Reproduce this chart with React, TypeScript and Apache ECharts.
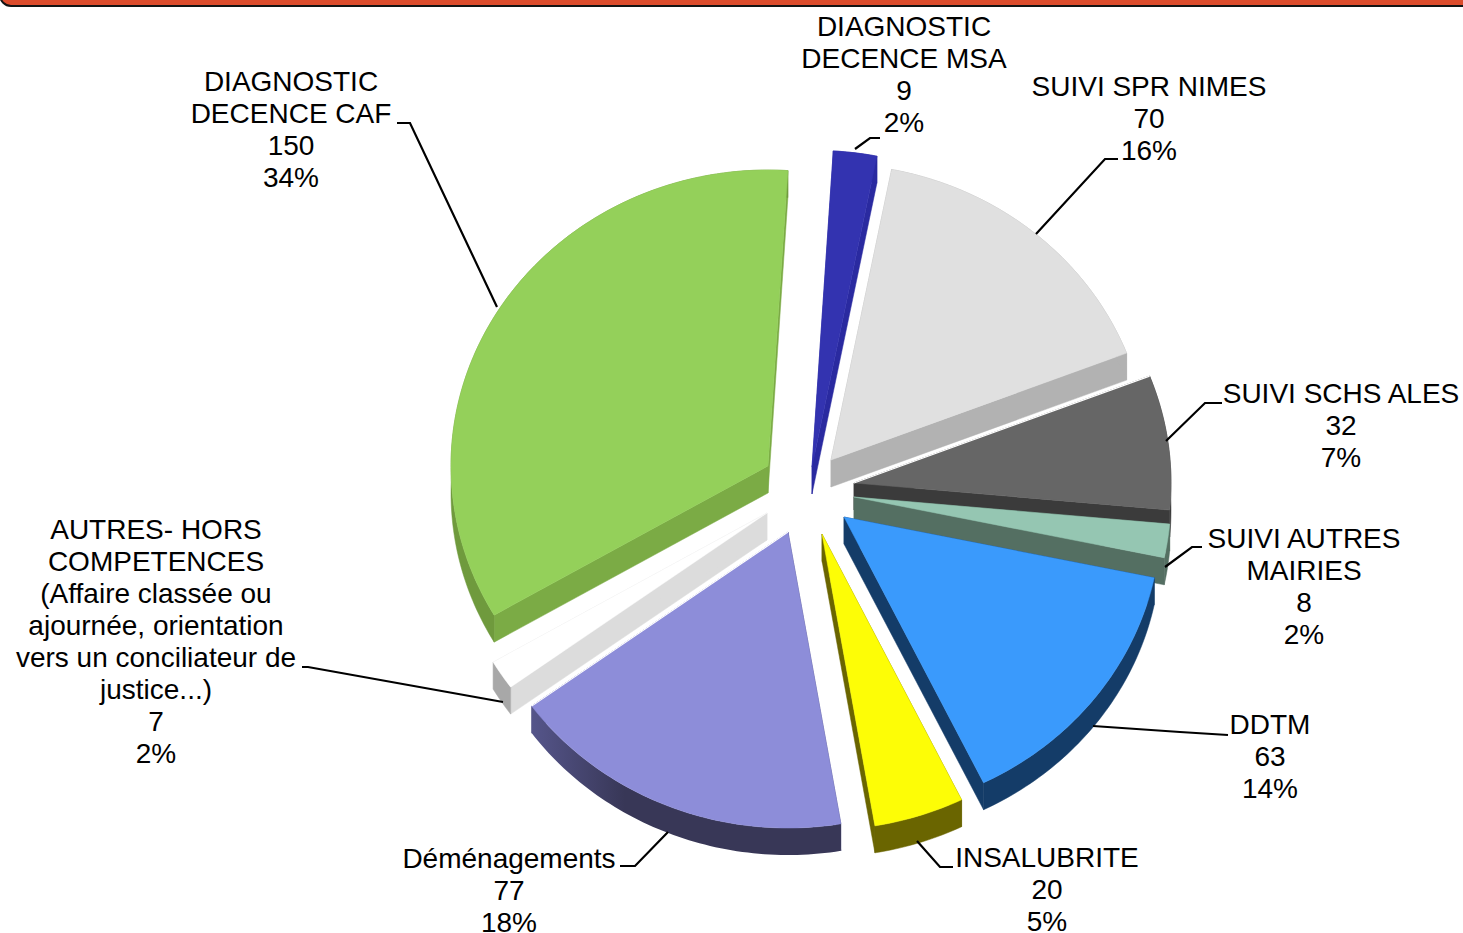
import React, { useEffect, useRef } from "react";
import * as echarts from "echarts";

const names = [
  "DIAGNOSTIC\nDECENCE MSA",
  "SUIVI SPR NIMES",
  "SUIVI SCHS ALES",
  "SUIVI AUTRES\nMAIRIES",
  "DDTM",
  "INSALUBRITE",
  "Déménagements",
  "AUTRES- HORS\nCOMPETENCES\n(Affaire classée ou\najournée, orientation\nvers un conciliateur de\njustice...)",
  "DIAGNOSTIC\nDECENCE CAF",
];
const values = [9, 70, 32, 8, 63, 20, 77, 7, 150];

// Styling and layout, one entry per slice
const topColors = ["#3333b0", "#e0e0e0", "#666666", "#95c6b2", "#3a9afc", "#fdfd06", "#8d8dd9", "#ffffff", "#94d05a"];
const edgeColors = ["#2a2aa0", "#b2b2b2", "#3b3b3b", "#546f62", "#143c68", "#6a6500", "#4f4f80", "#dcdcdc", "#7bab45"];
const rimColors = ["#2a2aa0", "#b2b2b2", "#3b3b3b", "#546f62", "#143c68", "#6a6500", "#383757", "#a8a8a8", "#6f9a3d"];
const tips: number[][] = [[812, 467], [831, 460], [854, 483], [854, 497], [844, 517], [822, 534], [788, 532], [767, 513], [768, 466]];
const radiusScale = [1.07, 1, 1, 1, 1, 1, 1, 1, 1];
const drawOrder = [1, 2, 3, 4, 5, 8, 7, 6, 0];
const labelPos: number[][] = [[904, 74], [1149, 118], [1341, 425], [1304, 586], [1270, 756], [1047, 889], [509, 890], [156, 641], [291, 129]];
const leaders: number[][][] = [
  [[880, 138], [870, 138], [855, 149]],
  [[1118, 159], [1105, 159], [1036, 234]],
  [[1222, 403], [1205, 403], [1166, 441]],
  [[1202, 547], [1192, 547], [1165, 567]],
  [[1228, 735], [1180, 732], [1093, 726]],
  [[953, 867], [940, 867], [917, 841]],
  [[620, 866], [635, 866], [668, 832]],
  [[302, 667], [308, 667], [503, 702]],
  [[397, 123], [410, 123], [497, 307]],
];

const START_DEG = 3.6;
const RX = 317;
const RY = 296;
const DEPTH = 27;
const FONT = "Liberation Sans";

const total = values.reduce((a, b) => a + b, 0);

function renderSlice(params: any, api: any) {
  const i = params.dataIndex;
  const value = api.value(0);
  let before = 0;
  for (let k = 0; k < i; k++) before += values[k];
  const a0 = START_DEG + (before / total) * 360;
  const a1 = a0 + (value / total) * 360;
  const [tx, ty] = tips[i];
  const s = radiusScale[i];
  const pt = (deg: number, dy = 0) => {
    const r = (deg * Math.PI) / 180;
    return [tx + RX * s * Math.sin(r), ty - RY * s * Math.cos(r) + dy];
  };
  const arc: number[][] = [];
  const lower: number[][] = [];
  const n = Math.max(2, Math.ceil(a1 - a0));
  for (let k = 0; k <= n; k++) {
    const d = a0 + ((a1 - a0) * k) / n;
    arc.push(pt(d));
    lower.push(pt(d, DEPTH));
  }
  const z = drawOrder[i] * 10;
  const poly = (points: number[][], fill: any, zz: number) => ({
    type: "polygon",
    z2: zz,
    silent: true,
    shape: { points },
    style: { fill, stroke: typeof fill === "string" ? fill : null, lineWidth: 0.5 },
  });
  const tip = [tx, ty];
  const tipLow = [tx, ty + DEPTH];
  const rimFill: any =
    i === 6
      ? new echarts.graphic.LinearGradient(532, 0, 625, 0, [
          { offset: 0, color: "#55558a" },
          { offset: 1, color: "#383757" },
        ], true)
      : rimColors[i];
  const children: any[] = [
    poly([tip, arc[0], lower[0], tipLow], edgeColors[i], z),
    poly([tip, arc[n], lower[n], tipLow], edgeColors[i], z + 1),
    poly([...arc, ...lower.slice().reverse()], rimFill, z + 2),
    poly([tip, ...arc], topColors[i], z + 3),
    {
      type: "polyline",
      z2: 200,
      silent: true,
      shape: { points: leaders[i] },
      style: { stroke: "#000000", lineWidth: 2.2, fill: "none" },
    },
    {
      type: "text",
      z2: 300,
      silent: true,
      style: {
        text: `${names[i]}\n${value}\n${Math.round((value / total) * 100)}%`,
        x: labelPos[i][0],
        y: labelPos[i][1],
        align: "center",
        verticalAlign: "middle",
        font: `28px "${FONT}"`,
        lineHeight: 32,
        fill: "#000000",
      },
    },
  ];
  // thin white seam where a slice sits right against the side of its neighbour
  if (i === 2 || i === 6) {
    children.push({
      type: "polyline",
      z2: z + 4,
      silent: true,
      shape: { points: [tip, i === 2 ? arc[0] : arc[n]] },
      style: { stroke: "#ffffff", lineWidth: 1.2, fill: "none" },
    });
  }
  return { type: "group", children };
}

export default function App() {
  const ref = useRef<HTMLDivElement>(null);
  useEffect(() => {
    const chart = echarts.init(ref.current!, null, { renderer: "svg" });
    chart.setOption({
      animation: false,
      backgroundColor: "#ffffff",
      graphic: [
        {
          type: "rect",
          z: 10,
          shape: { x: 0, y: -20, width: 1490, height: 26, r: 11 },
          style: { fill: "#dc4c2c", stroke: "#141414", lineWidth: 2 },
        },
      ],
      series: [
        {
          type: "custom",
          coordinateSystem: "none",
          renderItem: renderSlice,
          data: values.map((v) => [v]),
          silent: true,
        },
      ],
    });
    return () => chart.dispose();
  }, []);
  return <div ref={ref} style={{ position: "fixed", left: 0, top: 0, width: 1463, height: 933 }} />;
}
